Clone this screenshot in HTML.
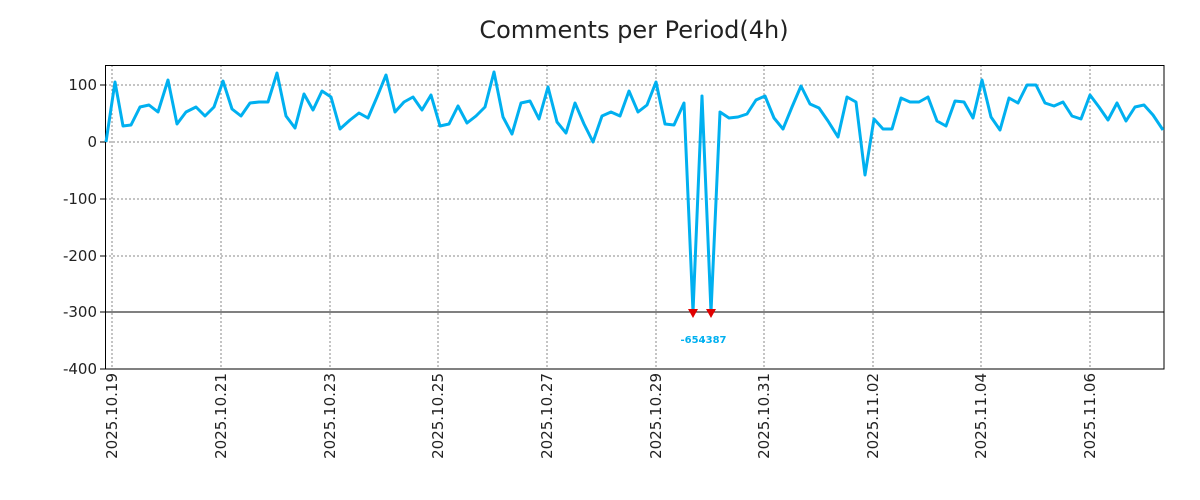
<!DOCTYPE html>
<html><head><meta charset="utf-8"><style>
html,body{margin:0;padding:0;background:#fff;}
svg{display:block;font-family:"DejaVu Sans","Liberation Sans",sans-serif;}
</style></head><body>
<svg width="1200" height="500" viewBox="0 0 1200 500" xmlns="http://www.w3.org/2000/svg">
<text x="634" y="38" font-size="24" text-anchor="middle" fill="#222">Comments per Period(4h)</text>
<g stroke="#888" stroke-width="1" stroke-dasharray="2,2">
<line x1="105" x2="1164" y1="85" y2="85"/><line x1="105" x2="1164" y1="142" y2="142"/>
<line x1="105" x2="1164" y1="199" y2="199"/><line x1="105" x2="1164" y1="256" y2="256"/>
<line x1="112" x2="112" y1="65" y2="369"/><line x1="221" x2="221" y1="65" y2="369"/>
<line x1="330" x2="330" y1="65" y2="369"/><line x1="438" x2="438" y1="65" y2="369"/>
<line x1="547" x2="547" y1="65" y2="369"/><line x1="656" x2="656" y1="65" y2="369"/>
<line x1="764" x2="764" y1="65" y2="369"/><line x1="873" x2="873" y1="65" y2="369"/>
<line x1="981" x2="981" y1="65" y2="369"/><line x1="1090" x2="1090" y1="65" y2="369"/>
</g>
<line x1="105" x2="1164" y1="312" y2="312" stroke="#000" stroke-width="1"/>
<rect x="105.5" y="65.5" width="1058.5" height="303.5" fill="none" stroke="#000" stroke-width="1"/>
<g stroke="#000" stroke-width="1">
<line x1="105" x2="100" y1="85" y2="85"/><line x1="105" x2="100" y1="142" y2="142"/>
<line x1="105" x2="100" y1="199" y2="199"/><line x1="105" x2="100" y1="256" y2="256"/>
<line x1="105" x2="100" y1="312" y2="312"/><line x1="105" x2="100" y1="369" y2="369"/>
</g>
<g font-size="15" fill="#222" text-anchor="end">
<text x="97" y="90">100</text><text x="97" y="147">0</text><text x="97" y="204">-100</text>
<text x="97" y="261">-200</text><text x="97" y="317">-300</text><text x="97" y="374">-400</text>
</g>
<g font-size="15" fill="#222" text-anchor="end">
<text transform="translate(117,373) rotate(-90)">2025.10.19</text>
<text transform="translate(226,373) rotate(-90)">2025.10.21</text>
<text transform="translate(335,373) rotate(-90)">2025.10.23</text>
<text transform="translate(443,373) rotate(-90)">2025.10.25</text>
<text transform="translate(552,373) rotate(-90)">2025.10.27</text>
<text transform="translate(661,373) rotate(-90)">2025.10.29</text>
<text transform="translate(769,373) rotate(-90)">2025.10.31</text>
<text transform="translate(878,373) rotate(-90)">2025.11.02</text>
<text transform="translate(986,373) rotate(-90)">2025.11.04</text>
<text transform="translate(1095,373) rotate(-90)">2025.11.06</text>
</g>
<polyline fill="none" stroke="#00b0f0" stroke-width="3" stroke-linejoin="round" points="106,142 115,82 123,126 131,125 140,107 149,105 158,112 168,80 177,124 186,112 196,107 205,116 214,107 223,81 232,109 241,116 250,103 259,102 268,102 277,73 286,116 295,128 304,94 313,110 322,91 331,97 340,129 350,120 359,113 368,118 377,97 386,75 395,112 404,102 413,97 422,110 431,95 440,126 449,124 458,106 467,123 476,116 485,107 494,72 503,117 512,134 521,103 530,101 539,119 548,87 557,122 566,133 575,103 584,124 593,142 602,116 611,112 620,116 629,91 638,112 647,105 656,82 665,124 674,125 684,103 693,312 702,96 711,312 720,112 729,118 738,117 747,114 756,100 765,96 774,118 783,129 792,107 801,86 810,104 819,108 828,121 838,137 847,97 856,102 865,175 874,119 883,129 892,129 901,98 910,102 919,102 928,97 937,121 946,126 955,101 964,102 973,118 982,80 991,117 1000,130 1009,98 1018,103 1027,85 1036,85 1045,103 1054,106 1063,102 1072,116 1081,119 1090,95 1099,107 1108,120 1117,103 1126,121 1135,107 1144,105 1153,115 1163,130"/>
<polygon points="688,309 698,309 693,318" fill="#e00000"/>
<polygon points="706,309 716,309 711,318" fill="#e00000"/>
<text x="693" y="343" font-size="10" font-weight="bold" fill="#00b0f0" text-anchor="middle">-654</text>
<text x="714" y="343" font-size="10" font-weight="bold" fill="#00b0f0" text-anchor="middle">-387</text>
</svg>
</body></html>
